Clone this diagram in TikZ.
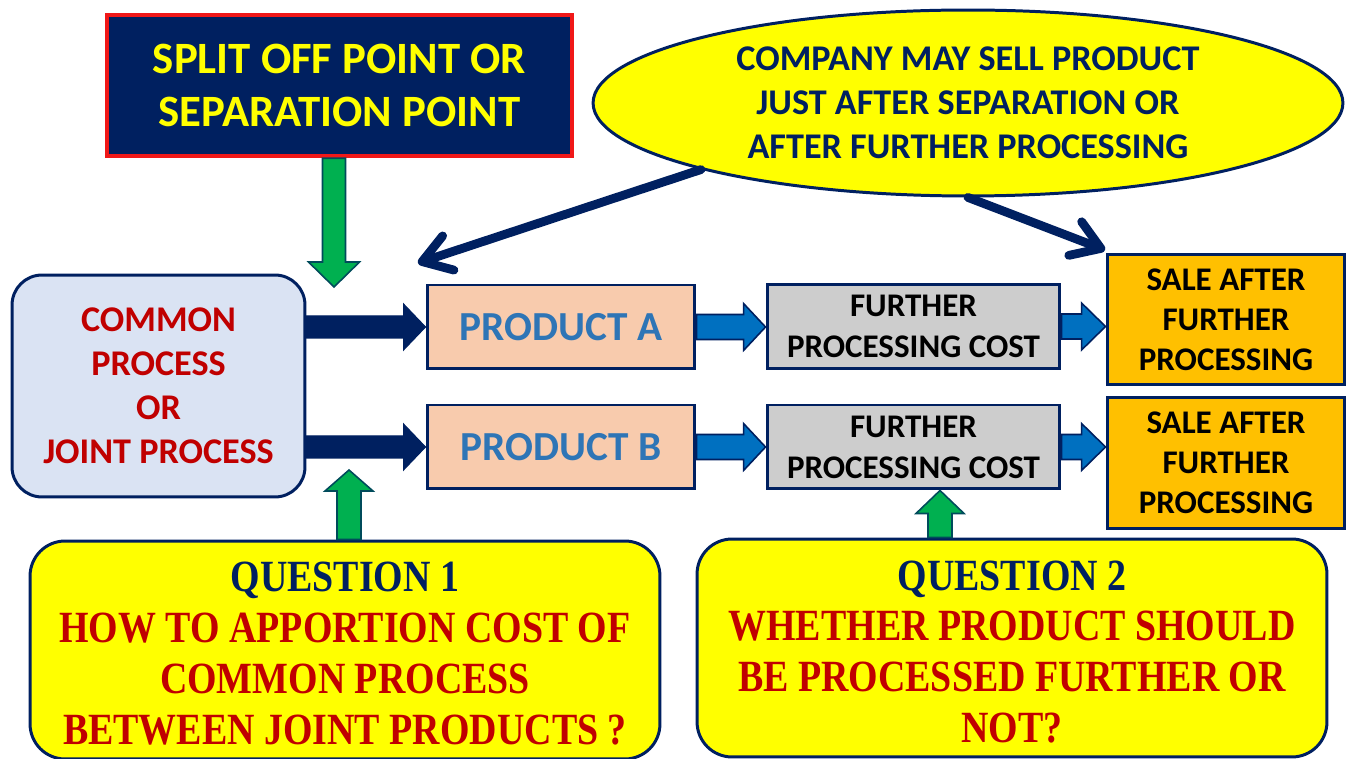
\documentclass[tikz,border=0pt]{standalone}
\usepackage{fontspec}
\setmainfont{Carlito}
\newfontfamily\qfont[FakeStretch=0.85]{Liberation Serif}
\usetikzlibrary{shapes.geometric,arrows.meta,calc}

\definecolor{navy}{HTML}{002060}
\definecolor{qred}{HTML}{C00000}
\definecolor{prodblue}{HTML}{2E75B6}
\definecolor{arrblue}{HTML}{0070C0}
\definecolor{arrgreen}{HTML}{00B050}
\definecolor{bright}{HTML}{FFFF00}
\definecolor{peach}{HTML}{F8CBAD}
\definecolor{pale}{HTML}{DAE3F3}
\definecolor{greybox}{HTML}{CDCDCD}
\definecolor{amber}{HTML}{FFC000}
\definecolor{splitred}{HTML}{F01818}

% block arrow: [style]{from}{to}{shaft half width}{head half width}{head length}
\newcommand{\blockarrow}[6][]{%
  \coordinate (bahead) at ($(#3)!#6!(#2)$);
  \filldraw[#1] ($(#2)!#4!90:(#3)$) -- ($(bahead)!#4!90:(#3)$)
    -- ($(bahead)!#5!90:(#3)$) -- (#3) -- ($(bahead)!#5!-90:(#3)$)
    -- ($(bahead)!#4!-90:(#3)$) -- ($(#2)!#4!-90:(#3)$) -- cycle;
}

\tikzset{
  box/.style={draw=navy, line width=1.7pt, inner sep=0pt, align=center},
  splitbox/.style={box, draw=splitred, line width=2.6pt, fill=navy, text=bright,
    minimum width=9.3cm, minimum height=2.82cm,
    font=\bfseries\fontsize{25.5}{30.2}\selectfont},
  bubble/.style={box, ellipse, fill=bright, text=navy,
    minimum width=15cm, minimum height=3.72cm,
    font=\bfseries\fontsize{20.6}{25}\selectfont},
  common/.style={box, rounded corners=0.6cm, fill=pale, text=qred,
    minimum width=5.86cm, minimum height=4.44cm,
    font=\bfseries\fontsize{20.6}{25}\selectfont},
  prod/.style={box, fill=peach, text=prodblue,
    minimum width=5.36cm, minimum height=1.68cm,
    font=\bfseries\fontsize{23.5}{28}\selectfont},
  further/.style={box, fill=greybox, text=black,
    minimum width=5.86cm, minimum height=1.68cm,
    font=\bfseries\fontsize{18.8}{23.3}\selectfont},
  sale/.style={box, fill=amber, text=black,
    minimum width=4.76cm, minimum height=2.62cm,
    font=\bfseries\fontsize{18.8}{22.8}\selectfont},
  question/.style={box, rounded corners=0.7cm, fill=bright, text=qred,
    minimum width=12.6cm, minimum height=4.36cm,
    font=\qfont\bfseries\fontsize{25.4}{29}\selectfont},
  pointer/.style={draw=navy, line width=5pt, line cap=round,
    -{Straight Barb[length=0.55cm, width=0.72cm, line cap=round, line join=round]}},
  navyarrow/.style={fill=navy, draw=navy, line width=0.6pt},
  bluearrow/.style={fill=arrblue, draw=navy, line width=0.9pt},
  greenarrow/.style={fill=arrgreen, draw=navy!70!arrgreen, line width=0.9pt}
}

\begin{document}
\begin{tikzpicture}[x=0.02cm, y=-0.02cm]
  \useasboundingbox (0,0) rectangle (1349,759);

  % boxes
  \node[splitbox] (split) at (339.5,85.5) {SPLIT OFF POINT OR\\SEPARATION POINT};
  \node[bubble] (bubble) at (968,103) {COMPANY MAY SELL PRODUCT\\JUST AFTER SEPARATION OR\\AFTER FURTHER PROCESSING};
  \node[common] (common) at (158.5,386) {COMMON\\PROCESS\\OR\\JOINT PROCESS};
  \node[prod] (prodA) at (561,327) {PRODUCT A};
  \node[prod] (prodB) at (561,447) {PRODUCT B};
  \node[further] (furA) at (913.5,326.5) {FURTHER\\PROCESSING COST};
  \node[further] (furB) at (913.5,447) {FURTHER\\PROCESSING COST};
  \node[sale] (saleA) at (1226,319.5) {SALE AFTER\\FURTHER\\PROCESSING};
  \node[sale] (saleB) at (1226,463) {SALE AFTER\\FURTHER\\PROCESSING};
  \node[question] (q1) at (345,650) {\rule{0pt}{0.75cm}\textcolor{navy}{QUESTION 1}\\HOW TO APPORTION COST OF\\COMMON PROCESS\\BETWEEN JOINT PRODUCTS ?};
  \node[question] (q2) at (1012,648) {\rule{0pt}{0.75cm}\textcolor{navy}{QUESTION 2}\\WHETHER PRODUCT SHOULD\\BE PROCESSED FURTHER OR\\NOT?};

  % free ends
  \coordinate (splitout) at ($(split.south)+(-5.5,0)$);
  \coordinate (splittip) at (334,287);
  \coordinate (ltip) at (418,263);
  \coordinate (rtip) at (1105,250);
  \coordinate (q1out) at ($(q1.north)+(4,0)$);
  \coordinate (q1tip) at (349,470);
  \coordinate (q2out) at ($(q2.north)+(-72,0)$);
  \coordinate (q2tip) at ($(furB.south)+(26.5,0)$);

  % block arrows
  \blockarrow[greenarrow]{splitout}{splittip}{0.23cm}{0.51cm}{0.5cm}
  \blockarrow[navyarrow]{common.east |- prodA.west}{prodA.west}{0.22cm}{0.46cm}{0.44cm}
  \blockarrow[navyarrow]{common.east |- prodB.west}{prodB.west}{0.22cm}{0.46cm}{0.44cm}
  \blockarrow[bluearrow]{prodA.east}{furA.west |- prodA.east}{0.25cm}{0.47cm}{0.44cm}
  \blockarrow[bluearrow]{prodB.east}{furB.west |- prodB.east}{0.25cm}{0.47cm}{0.44cm}
  \blockarrow[bluearrow]{furA.east}{saleA.west |- furA.east}{0.25cm}{0.47cm}{0.48cm}
  \blockarrow[bluearrow]{furB.east}{saleB.west |- furB.east}{0.25cm}{0.47cm}{0.48cm}
  \blockarrow[greenarrow]{q1out}{q1tip}{0.24cm}{0.48cm}{0.42cm}
  \blockarrow[greenarrow]{q2out}{q2tip}{0.24cm}{0.48cm}{0.46cm}

  % pointers from the bubble
  \draw[pointer] (bubble.194) -- (ltip);
  \draw[pointer] (bubble.south) -- (rtip);
\end{tikzpicture}
\end{document}
